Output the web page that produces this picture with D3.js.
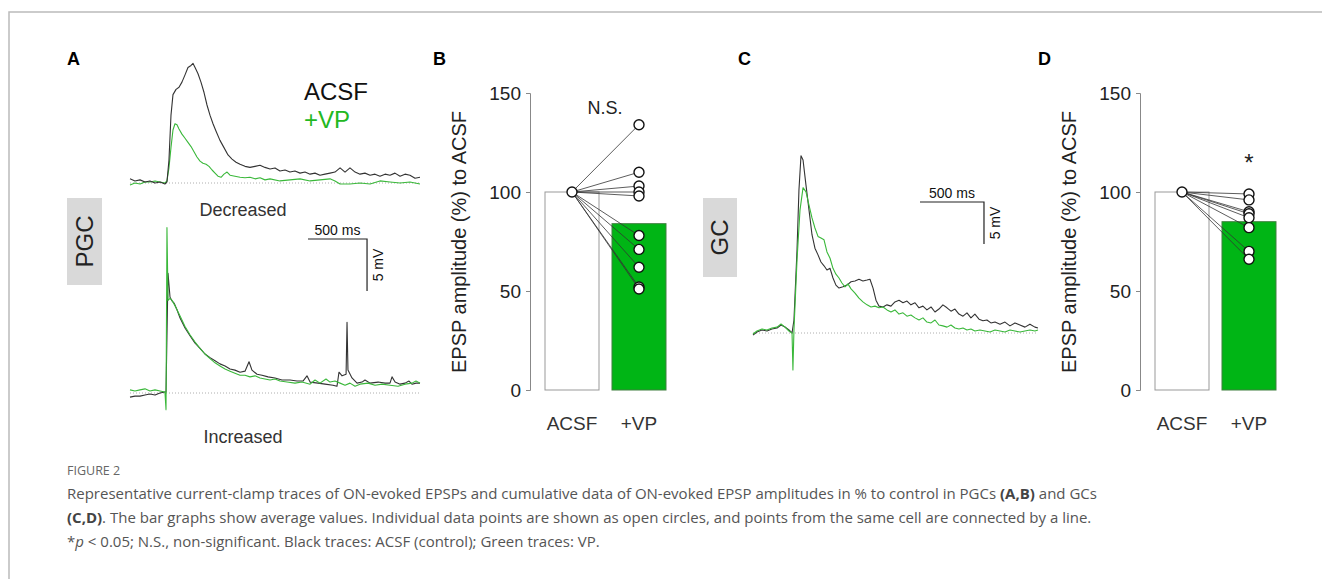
<!DOCTYPE html>
<html>
<head>
<meta charset="utf-8">
<script src="https://cdn.jsdelivr.net/npm/d3@7"></script>
<style>
  body { margin: 0; background: #fff; }
  svg { display: block; }
  .lbl { font-family: "Liberation Sans", Arial, sans-serif; }
  .cap { font-family: "Open Sans", sans-serif; }
</style>
</head>
<body>
<div class="view"></div>
<script>
// bar graph data (% of ACSF)
var barCats = ["ACSF", "+VP"];
var tickVals = [0, 50, 100, 150];
var pgcMean = [100, 84];
var pgcCells = [134, 110, 103, 100, 98, 78, 71, 62, 52, 51];
var gcMean = [100, 85];
var gcCells = [99, 96, 90, 89, 87, 82, 70, 66];

// traces: [time (ms), voltage (mV)]
var pgcDecAcsf = [[0,0.4],[42,0.2],[85,0.3],[127,0.1],[169,0.2],[212,0],[254,0.1],[296,-0.1],[313,0.1],[330,2.2],[347,6.5],[364,8.5],[390,9.0],[415,9.2],[440,9.7],[466,10.4],[491,11.1],[517,11.3],[534,11.5],[551,11.1],[576,10.5],[601,9.7],[627,8.7],[652,7.5],[678,6.5],[703,5.7],[728,5.0],[762,4.1],[796,3.4],[830,2.7],[864,2.3],[898,2.0],[932,1.8],[974,1.6],[1016,1.5],[1059,1.6],[1101,1.7],[1143,1.5],[1186,1.35],[1228,1.45],[1270,1.15],[1313,1.25],[1355,1.05],[1397,1.15],[1440,0.95],[1482,1.05],[1525,0.85],[1567,0.95],[1609,0.75],[1652,0.85],[1694,0.95],[1736,1.05],[1779,1.45],[1821,1.05],[1863,1.45],[1906,1.05],[1948,0.85],[1990,0.95],[2033,0.75],[2075,0.85],[2117,0.65],[2160,0.85],[2202,0.75],[2244,0.95],[2287,0.65],[2329,0.85],[2371,0.75],[2414,0.45],[2456,0.55]];
var pgcDecVp = [[0,-0.2],[42,0],[85,-0.1],[127,0.1],[169,0.1],[212,0.2],[254,0.1],[296,0],[313,0.2],[330,1.45],[347,3.4],[364,5.1],[381,5.7],[398,5.6],[415,5.2],[440,4.7],[466,4.3],[491,3.9],[517,3.5],[542,3.0],[567,2.5],[593,2.1],[618,1.9],[644,1.8],[669,1.6],[695,1.25],[720,0.95],[745,0.65],[771,0.55],[796,0.85],[822,1.05],[847,0.75],[889,0.65],[932,0.55],[974,0.5],[1016,0.55],[1059,0.4],[1101,0.5],[1143,0.3],[1186,0.4],[1270,0.2],[1355,0.3],[1440,0.4],[1525,0.2],[1609,0.3],[1694,0.4],[1736,0.2],[1779,-0.1],[1863,-0.1],[1948,0],[2033,-0.1],[2117,0.2],[2202,0.1],[2287,0],[2371,0.1],[2456,-0.1]];
var pgcIncAcsf = [[0,-0.4],[42,-0.3],[85,-0.3],[127,-0.2],[169,-0.1],[212,-0.2],[254,0],[296,0.1],[305,0.1],[322,11.5],[339,9.2],[356,8.85],[373,8.65],[398,8.0],[424,7.2],[466,6.25],[508,5.5],[551,4.8],[593,4.3],[635,3.75],[678,3.4],[720,3.1],[762,2.8],[805,2.6],[847,2.3],[889,2.2],[932,2.0],[974,2.1],[1008,3.0],[1033,2.2],[1076,1.8],[1118,1.7],[1169,1.55],[1228,1.45],[1287,1.25],[1355,1.25],[1414,1.15],[1465,1.15],[1499,1.65],[1525,1.05],[1592,0.95],[1652,0.85],[1719,0.75],[1753,0.65],[1770,2.0],[1796,1.65],[1830,1.8],[1838,6.8],[1846,2.2],[1880,1.45],[1923,0.95],[1965,1.05],[1990,1.25],[2033,0.95],[2101,1.05],[2160,0.95],[2202,0.95],[2219,1.55],[2245,1.05],[2287,0.85],[2329,0.95],[2363,1.15],[2388,0.85],[2422,0.95],[2456,0.95]];
var pgcIncVp = [[0,0.3],[42,0.2],[85,0.3],[127,0.4],[169,0.2],[212,0.3],[254,0.2],[296,0.1],[305,-1.6],[313,15.9],[322,8.9],[339,9.1],[356,8.9],[381,8.4],[424,7.4],[466,6.4],[508,5.6],[551,4.9],[593,4.3],[635,3.75],[678,3.3],[720,2.9],[762,2.6],[805,2.3],[847,2.1],[889,1.9],[932,1.7],[974,1.7],[1016,1.55],[1059,1.65],[1101,1.45],[1143,1.35],[1186,1.25],[1228,1.35],[1270,1.15],[1330,1.05],[1397,0.95],[1457,1.05],[1525,0.85],[1567,1.25],[1609,0.95],[1660,1.35],[1694,1.05],[1736,1.15],[1779,0.95],[1821,0.75],[1863,0.95],[1906,0.65],[1948,0.85],[2016,0.95],[2075,0.75],[2135,0.85],[2202,0.75],[2270,0.65],[2329,0.85],[2388,0.95],[2422,1.15],[2456,0.95]];
var gcAcsf = [[0,-0.24],[31,0.12],[70,0.36],[109,0.24],[148,0.48],[188,0.6],[219,0.95],[250,0.71],[281,0.36],[305,0],[320,1.55],[344,9.9],[359,17.0],[375,21.1],[391,20.6],[414,17.6],[438,14.6],[461,11.7],[484,10.1],[508,9.3],[531,8.45],[555,8.0],[578,7.5],[602,7.7],[625,6.55],[648,5.7],[672,5.35],[703,5.5],[734,5.7],[766,6.1],[797,6.2],[828,6.4],[859,6.2],[891,6.3],[914,6.4],[938,5.35],[961,3.9],[984,3.2],[1016,3.1],[1047,3.35],[1078,3.2],[1109,3.7],[1141,3.9],[1172,3.6],[1203,3.8],[1234,3.35],[1266,3.6],[1297,3.0],[1328,3.2],[1359,2.75],[1391,3.1],[1422,2.5],[1453,2.85],[1484,3.35],[1516,3.0],[1547,2.6],[1578,2.85],[1609,2.25],[1641,2.0],[1672,2.4],[1703,1.8],[1734,2.25],[1766,1.65],[1797,1.45],[1828,1.55],[1859,1.2],[1891,1.3],[1930,1.05],[1969,1.3],[2008,0.85],[2047,1.2],[2086,0.95],[2125,0.7],[2164,1.05],[2203,0.7],[2227,0.6]];
var gcVp = [[0,-0.12],[31,0.24],[70,0.48],[109,0.36],[148,0.6],[188,0.7],[219,1.07],[250,0.7],[281,0.24],[305,0],[312,-4.4],[320,0.36],[344,8.7],[367,14.6],[391,17.3],[414,16.8],[438,15.2],[461,13.7],[484,12.5],[508,11.5],[531,11.3],[555,11.1],[578,9.65],[602,8.9],[625,7.7],[648,7.0],[672,6.55],[695,5.95],[719,5.5],[742,5.85],[766,5.25],[797,4.75],[828,4.15],[859,3.7],[891,3.35],[922,3.1],[953,3.2],[984,3.0],[1016,3.1],[1047,2.75],[1078,2.5],[1109,2.75],[1141,2.25],[1172,2.4],[1203,2.0],[1234,2.15],[1266,1.8],[1297,1.55],[1328,1.8],[1359,1.3],[1391,1.2],[1422,1.55],[1453,0.95],[1484,0.85],[1516,0.7],[1547,0.95],[1578,0.6],[1609,0.48],[1641,0.6],[1672,0.36],[1703,0.48],[1734,0.24],[1773,0.36],[1813,0.24],[1852,0.12],[1891,0.36],[1930,0.24],[1969,0.12],[2008,0.36],[2047,0.24],[2086,0.12],[2125,0.24],[2164,0.36],[2203,0.24],[2227,0.36]];

var captionLines = [
  [["Representative current-clamp traces of ON-evoked EPSPs and cumulative data of ON-evoked EPSP amplitudes in % to control in PGCs ", ""], ["(A,B)", "b"], [" and GCs", ""]],
  [["(C,D)", "b"], [". The bar graphs show average values. Individual data points are shown as open circles, and points from the same cell are connected by a line.", ""]],
  [["*", ""], ["p", "i"], [" < 0.05; N.S., non-significant. Black traces: ACSF (control); Green traces: VP.", ""]]
];

var BLACK = "#333";
var GREEN = "#3ab83a";
var BAR_GREEN = "#00b515";

var svg = d3.select(".view").append("svg")
  .attr("width", 1322)
  .attr("height", 579);

// frame
svg.append("path")
  .attr("d", "M9,579V12H1322")
  .attr("fill", "none")
  .attr("stroke", "#bbb")
  .attr("stroke-width", 1.5);

function panelLetter(x, t) {
  svg.append("text").attr("class", "lbl")
    .attr("x", x).attr("y", 65)
    .attr("font-size", 18).attr("font-weight", "bold")
    .text(t);
}
panelLetter(67, "A");
panelLetter(433, "B");
panelLetter(738, "C");
panelLetter(1038, "D");

function cellBox(x, y, w, h, t) {
  svg.append("rect").attr("x", x).attr("y", y).attr("width", w).attr("height", h).attr("fill", "#d9d9d9");
  svg.append("text").attr("class", "lbl")
    .attr("transform", "translate(" + (x + w / 2 + 8) + "," + (y + h / 2) + ") rotate(-90)")
    .attr("text-anchor", "middle")
    .attr("font-size", 24).attr("fill", "#222")
    .text(t);
}

function drawTrace(data, x, y, color) {
  var line = d3.line()
    .x(function(d) { return x(d[0]); })
    .y(function(d) { return y(d[1]); });
  svg.append("path")
    .datum(data)
    .attr("fill", "none")
    .attr("stroke", color)
    .attr("stroke-width", 1.1)
    .attr("stroke-linejoin", "round")
    .attr("d", line);
}

function baseline(x, y) {
  svg.append("line")
    .attr("x1", x.range()[0]).attr("x2", x.range()[1])
    .attr("y1", y(0)).attr("y2", y(0))
    .attr("stroke", "#999").attr("stroke-width", 0.8)
    .attr("stroke-dasharray", "1,2");
}

function scaleBar(x, y, left, top, fs) {
  var w = x(500) - x(0);
  var h = y(0) - y(5);
  svg.append("path")
    .attr("d", "M" + left + "," + top + "h" + w + "v" + h)
    .attr("fill", "none").attr("stroke", "#222").attr("stroke-width", 1.2);
  svg.append("text").attr("class", "lbl")
    .attr("x", left + w / 2).attr("y", top - 4)
    .attr("text-anchor", "middle").attr("font-size", fs).attr("fill", "#111")
    .text("500 ms");
  svg.append("text").attr("class", "lbl")
    .attr("transform", "translate(" + (left + w + 16) + "," + (top + h / 2) + ") rotate(-90)")
    .attr("text-anchor", "middle").attr("font-size", fs).attr("fill", "#111")
    .text("5 mV");
}

// ---- Panel A ----
var xA = d3.scaleLinear().domain([0, 2456]).range([130, 420]);
var yAtop = d3.scaleLinear().domain([0, 10]).range([183, 79]);
var yAbot = d3.scaleLinear().domain([0, 10]).range([393, 289]);

baseline(xA, yAtop);
drawTrace(pgcDecVp, xA, yAtop, GREEN);
drawTrace(pgcDecAcsf, xA, yAtop, BLACK);
baseline(xA, yAbot);
drawTrace(pgcIncAcsf, xA, yAbot, BLACK);
drawTrace(pgcIncVp, xA, yAbot, GREEN);

svg.append("text").attr("class", "lbl").attr("x", 304).attr("y", 100)
  .attr("font-size", 24).attr("fill", "#111").text("ACSF");
svg.append("text").attr("class", "lbl").attr("x", 304).attr("y", 128)
  .attr("font-size", 24).attr("fill", "#22b822").text("+VP");

svg.append("text").attr("class", "lbl").attr("x", 243).attr("y", 216)
  .attr("text-anchor", "middle").attr("font-size", 18).attr("fill", "#333").text("Decreased");
svg.append("text").attr("class", "lbl").attr("x", 243).attr("y", 443)
  .attr("text-anchor", "middle").attr("font-size", 18).attr("fill", "#333").text("Increased");

cellBox(67, 198, 35, 87, "PGC");
scaleBar(xA, yAbot, 308, 239, 14);

// ---- Panel C ----
var xC = d3.scaleLinear().domain([0, 2227]).range([753, 1038]);
var yC = d3.scaleLinear().domain([0, 10]).range([333, 249]);

baseline(xC, yC);
drawTrace(gcAcsf, xC, yC, BLACK);
drawTrace(gcVp, xC, yC, GREEN);
cellBox(703, 198, 34, 79, "GC");
scaleBar(xC, yC, 920, 202, 14);

// ---- Bar panels B and D ----
function drawBars(axisX, bandRange, labelX, means, cells, mark, markX, markY, markSize) {
  var y = d3.scaleLinear().domain([0, 150]).range([390, 93]);
  var x = d3.scaleBand().domain(barCats).range(bandRange).paddingInner(0.194).paddingOuter(0);
  var g = svg.append("g");

  g.selectAll(".bar")
    .data(barCats)
    .enter()
    .append("rect")
    .attr("class", "bar")
    .attr("x", function(d) { return x(d); })
    .attr("y", function(d, i) { return y(means[i]); })
    .attr("width", x.bandwidth())
    .attr("height", function(d, i) { return y(0) - y(means[i]); })
    .attr("fill", function(d, i) { return i == 0 ? "#fff" : BAR_GREEN; })
    .attr("stroke", function(d, i) { return i == 0 ? "#999" : "#3f7f3f"; })
    .attr("stroke-width", 1);

  var ax = g.append("g")
    .attr("transform", "translate(" + axisX + ",0)")
    .call(d3.axisLeft(y).tickValues(tickVals).tickSize(4).tickPadding(5));
  ax.select(".domain").attr("stroke", "#888");
  ax.selectAll(".tick line").attr("stroke", "#888");
  ax.selectAll("text")
    .attr("class", "lbl")
    .attr("font-size", 19)
    .attr("fill", "#222");

  g.append("text").attr("class", "lbl")
    .attr("transform", "translate(" + labelX + "," + 242 + ") rotate(-90)")
    .attr("text-anchor", "middle")
    .attr("font-size", 20).attr("fill", "#222")
    .text("EPSP amplitude (%) to ACSF");

  var cx0 = x(barCats[0]) + x.bandwidth() / 2;
  var cx1 = x(barCats[1]) + x.bandwidth() / 2;

  g.selectAll(".pair")
    .data(cells)
    .enter()
    .append("line")
    .attr("x1", cx0).attr("y1", y(100))
    .attr("x2", cx1).attr("y2", function(d) { return y(d); })
    .attr("stroke", "#333").attr("stroke-width", 0.8);

  g.selectAll(".c1")
    .data(cells)
    .enter()
    .append("circle")
    .attr("cx", cx1).attr("cy", function(d) { return y(d); })
    .attr("r", 5)
    .attr("fill", "#fff").attr("stroke", "#111").attr("stroke-width", 1.4);

  g.append("circle")
    .attr("cx", cx0).attr("cy", y(100))
    .attr("r", 5)
    .attr("fill", "#fff").attr("stroke", "#111").attr("stroke-width", 1.4);

  g.selectAll(".xl")
    .data(barCats)
    .enter()
    .append("text")
    .attr("class", "lbl")
    .attr("x", function(d) { return x(d) + x.bandwidth() / 2; })
    .attr("y", 430)
    .attr("text-anchor", "middle")
    .attr("font-size", 19).attr("fill", "#333")
    .text(function(d) { return d; });

  g.append("text").attr("class", "lbl")
    .attr("x", markX == null ? cx1 : markX).attr("y", markY)
    .attr("text-anchor", "middle")
    .attr("font-size", markSize).attr("fill", "#222")
    .text(mark);
}

drawBars(530, [545, 666], 466, pgcMean, pgcCells, "N.S.", 605, 114, 18);
drawBars(1140, [1155, 1276], 1076, gcMean, gcCells, "*", null, 171, 24);

// ---- caption ----
svg.append("text").attr("class", "cap")
  .attr("x", 67).attr("y", 475)
  .attr("font-size", 12.5).attr("fill", "#666")
  .text("FIGURE 2");

var capY = [499, 523, 547];
captionLines.forEach(function(parts, i) {
  var t = svg.append("text").attr("class", "cap")
    .attr("x", 67).attr("y", capY[i])
    .attr("font-size", 15).attr("fill", "#555");
  parts.forEach(function(p) {
    var s = t.append("tspan").text(p[0]);
    if (p[1] == "b") s.attr("font-weight", "bold").attr("fill", "#444");
    if (p[1] == "i") s.attr("font-style", "italic");
  });
});
</script>
</body>
</html>
